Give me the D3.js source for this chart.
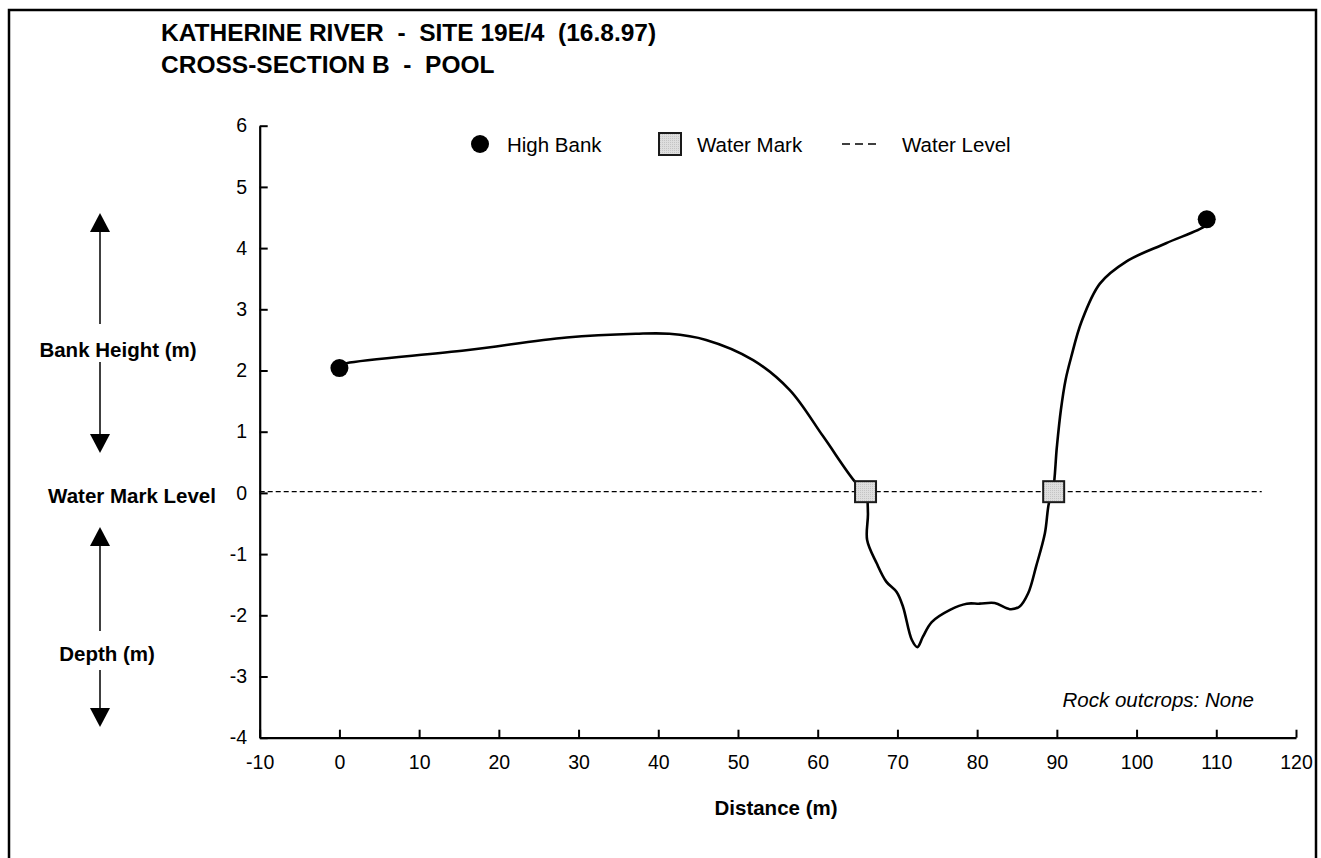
<!DOCTYPE html>
<html>
<head>
<meta charset="utf-8">
<script src="https://cdn.jsdelivr.net/npm/d3@7"></script>
<style>
  html, body { margin: 0; padding: 0; background: #fff; }
  svg { display: block; font-family: "Liberation Sans", Arial, sans-serif; }
</style>
</head>
<body>
<svg id="chart" width="1321" height="858"></svg>
<script>
// ---------- data ----------
const titleLines = ["KATHERINE RIVER  -  SITE 19E/4  (16.8.97)", "CROSS-SECTION B  -  POOL"];
const xTicks = [-10, 0, 10, 20, 30, 40, 50, 60, 70, 80, 90, 100, 110, 120];
const yTicks = [-4, -3, -2, -1, 0, 1, 2, 3, 4, 5, 6];
const xDomain = [-10, 120];
const yDomain = [-4, 6];

// surveyed profile (distance m, elevation m relative to water mark)
const profileDistance = [0, 0.9, 15.9, 28.5, 37.2, 41.4, 46.0, 51.9, 56.5, 60.7, 64.7, 66.0,
  66.3, 66.2, 67.4, 68.6, 69.9, 70.7, 71.8, 72.5, 73.2, 74.3, 76.6, 78.7, 80.3, 82.2, 84.1, 85.3,
  86.4, 87.4, 88.5, 89.0, 89.5, 90.0, 90.5, 91.1, 91.8, 93.1, 95.4, 98.7, 103.7, 108.6, 108.9];
const profileElevation = [2.08, 2.12, 2.33, 2.54, 2.60, 2.60, 2.50, 2.17, 1.68, 0.92, 0.18, 0.02,
  -0.33, -0.77, -1.15, -1.45, -1.62, -1.86, -2.40, -2.52, -2.35, -2.11, -1.91, -1.81, -1.81, -1.80, -1.90, -1.86,
  -1.64, -1.20, -0.66, -0.17, 0.02, 0.75, 1.35, 1.85, 2.22, 2.80, 3.42, 3.78, 4.08, 4.36, 4.42];

const highBankDistance = [0, 108.8];
const highBankElevation = [2.04, 4.47];
const waterMarkDistance = [66.0, 89.6];
const waterMarkElevation = [0.02, 0.02];
const waterLevelDistance = [-10, 115.7];
const waterLevelElevation = [0.02, 0.02];

const legendLabels = ["High Bank", "Water Mark", "Water Level"];
const sideLabels = ["Bank Height (m)", "Water Mark Level", "Depth (m)"];
const xAxisTitle = "Distance (m)";
const noteText = "Rock outcrops: None";

// ---------- drawing ----------
const svg = d3.select("#chart");
const x = d3.scaleLinear().domain(xDomain).range([259.7, 1296]);
const y = d3.scaleLinear().domain(yDomain).range([737.7, 125.7]);

// outer frame
svg.append("rect").attr("x", 9).attr("y", 10).attr("width", 1307).attr("height", 900)
  .attr("fill", "none").attr("stroke", "#000").attr("stroke-width", 2.5);

// title
svg.append("g").selectAll("text").data(titleLines).join("text")
  .attr("x", 161).attr("y", (d, i) => 41 + i * 32)
  .attr("font-size", 24.5).attr("font-weight", "bold").attr("fill", "#000")
  .attr("xml:space", "preserve").style("white-space", "pre")
  .text(d => d);

// axes
const xAxis = d3.axisBottom(x).tickValues(xTicks).tickSizeInner(-8).tickSizeOuter(0).tickPadding(17)
  .tickFormat(d => String(d));
const yAxis = d3.axisLeft(y).tickValues(yTicks).tickSizeInner(-8).tickSizeOuter(0).tickPadding(12.5)
  .tickFormat(d => String(d));

const gx = svg.append("g").attr("transform", `translate(0,${y(yDomain[0])})`).call(xAxis);
const gy = svg.append("g").attr("transform", `translate(${x(xDomain[0])},0)`).call(yAxis);
[gx, gy].forEach(g => {
  g.select(".domain").attr("stroke", "#000").attr("stroke-width", 2.2);
  g.selectAll(".tick line").attr("stroke", "#000").attr("stroke-width", 2);
  g.selectAll(".tick text").attr("font-size", 19.5).attr("fill", "#000")
    .attr("font-family", "'Liberation Sans', Arial, sans-serif");
});

// x axis title
svg.append("text").attr("x", 776).attr("y", 815).attr("text-anchor", "middle")
  .attr("font-size", 20.5).attr("font-weight", "bold").text(xAxisTitle);

// water level dashed line
const lineGen = d3.line().x(d => x(d[0])).y(d => y(d[1]));
svg.append("path")
  .datum(waterLevelDistance.map((d, i) => [d, waterLevelElevation[i]]))
  .attr("d", lineGen).attr("fill", "none").attr("stroke", "#000")
  .attr("stroke-width", 1.2).attr("stroke-dasharray", "5,3");

// profile
const smooth = d3.line().x(d => x(d[0])).y(d => y(d[1])).curve(d3.curveCatmullRom.alpha(0.5));
svg.append("path")
  .datum(profileDistance.map((d, i) => [d, profileElevation[i]]))
  .attr("d", smooth).attr("fill", "none").attr("stroke", "#000")
  .attr("stroke-width", 2.6).attr("stroke-linejoin", "round");

// pattern for water mark squares
const defs = svg.append("defs");
const pat = defs.append("pattern").attr("id", "dots").attr("width", 2).attr("height", 2)
  .attr("patternUnits", "userSpaceOnUse");
pat.append("rect").attr("width", 2).attr("height", 2).attr("fill", "#dedede");
pat.append("rect").attr("width", 1).attr("height", 1).attr("fill", "#c4c4c4");

// markers
svg.append("g").selectAll("circle").data(highBankDistance).join("circle")
  .attr("cx", d => x(d)).attr("cy", (d, i) => y(highBankElevation[i])).attr("r", 9)
  .attr("fill", "#000");
svg.append("g").selectAll("rect").data(waterMarkDistance).join("rect")
  .attr("x", d => x(d) - 10.5).attr("y", (d, i) => y(waterMarkElevation[i]) - 10.5)
  .attr("width", 21).attr("height", 21)
  .attr("fill", "url(#dots)").attr("stroke", "#1a1a1a").attr("stroke-width", 2);

// legend
const lg = svg.append("g");
const ly = 144;
lg.append("circle").attr("cx", 480).attr("cy", ly).attr("r", 9).attr("fill", "#000");
lg.append("rect").attr("x", 659).attr("y", ly - 11).attr("width", 22).attr("height", 22)
  .attr("fill", "url(#dots)").attr("stroke", "#1a1a1a").attr("stroke-width", 2);
lg.append("line").attr("x1", 842).attr("x2", 876).attr("y1", ly).attr("y2", ly)
  .attr("stroke", "#000").attr("stroke-width", 1.5).attr("stroke-dasharray", "8,5");
lg.selectAll("text").data(legendLabels).join("text")
  .attr("x", (d, i) => [507, 697, 902][i]).attr("y", ly + 7.5)
  .attr("font-size", 20.5).attr("fill", "#000").text(d => d);

// note
svg.append("text").attr("x", 1254).attr("y", 707).attr("text-anchor", "end")
  .attr("font-size", 20.5).attr("font-style", "italic").text(noteText);

// side annotations with arrows
const side = svg.append("g");
const ax = 100;
function arrow(x0, yTip, dir) { // dir: -1 up, +1 down
  const h = 19, w = 10;
  return `M${x0},${yTip} L${x0 - w},${yTip - dir * h} L${x0 + w},${yTip - dir * h} Z`;
}
const arrowSpecs = [
  {tip: 213, base: 231, end: 324, dir: -1},
  {tip: 453, base: 435, end: 362, dir: 1},
  {tip: 527, base: 545, end: 631, dir: -1},
  {tip: 727, base: 709, end: 670, dir: 1}
];
arrowSpecs.forEach(s => {
  side.append("line").attr("x1", ax).attr("x2", ax).attr("y1", s.base).attr("y2", s.end)
    .attr("stroke", "#000").attr("stroke-width", 1.5);
  side.append("path").attr("d", arrow(ax, s.tip, s.dir)).attr("fill", "#000");
});
side.selectAll("text").data(sideLabels).join("text")
  .attr("x", (d, i) => [118, 132, 107][i]).attr("y", (d, i) => [357, 503, 661][i])
  .attr("text-anchor", "middle").attr("font-size", 20.5).attr("font-weight", "bold")
  .text(d => d);
</script>
</body>
</html>
